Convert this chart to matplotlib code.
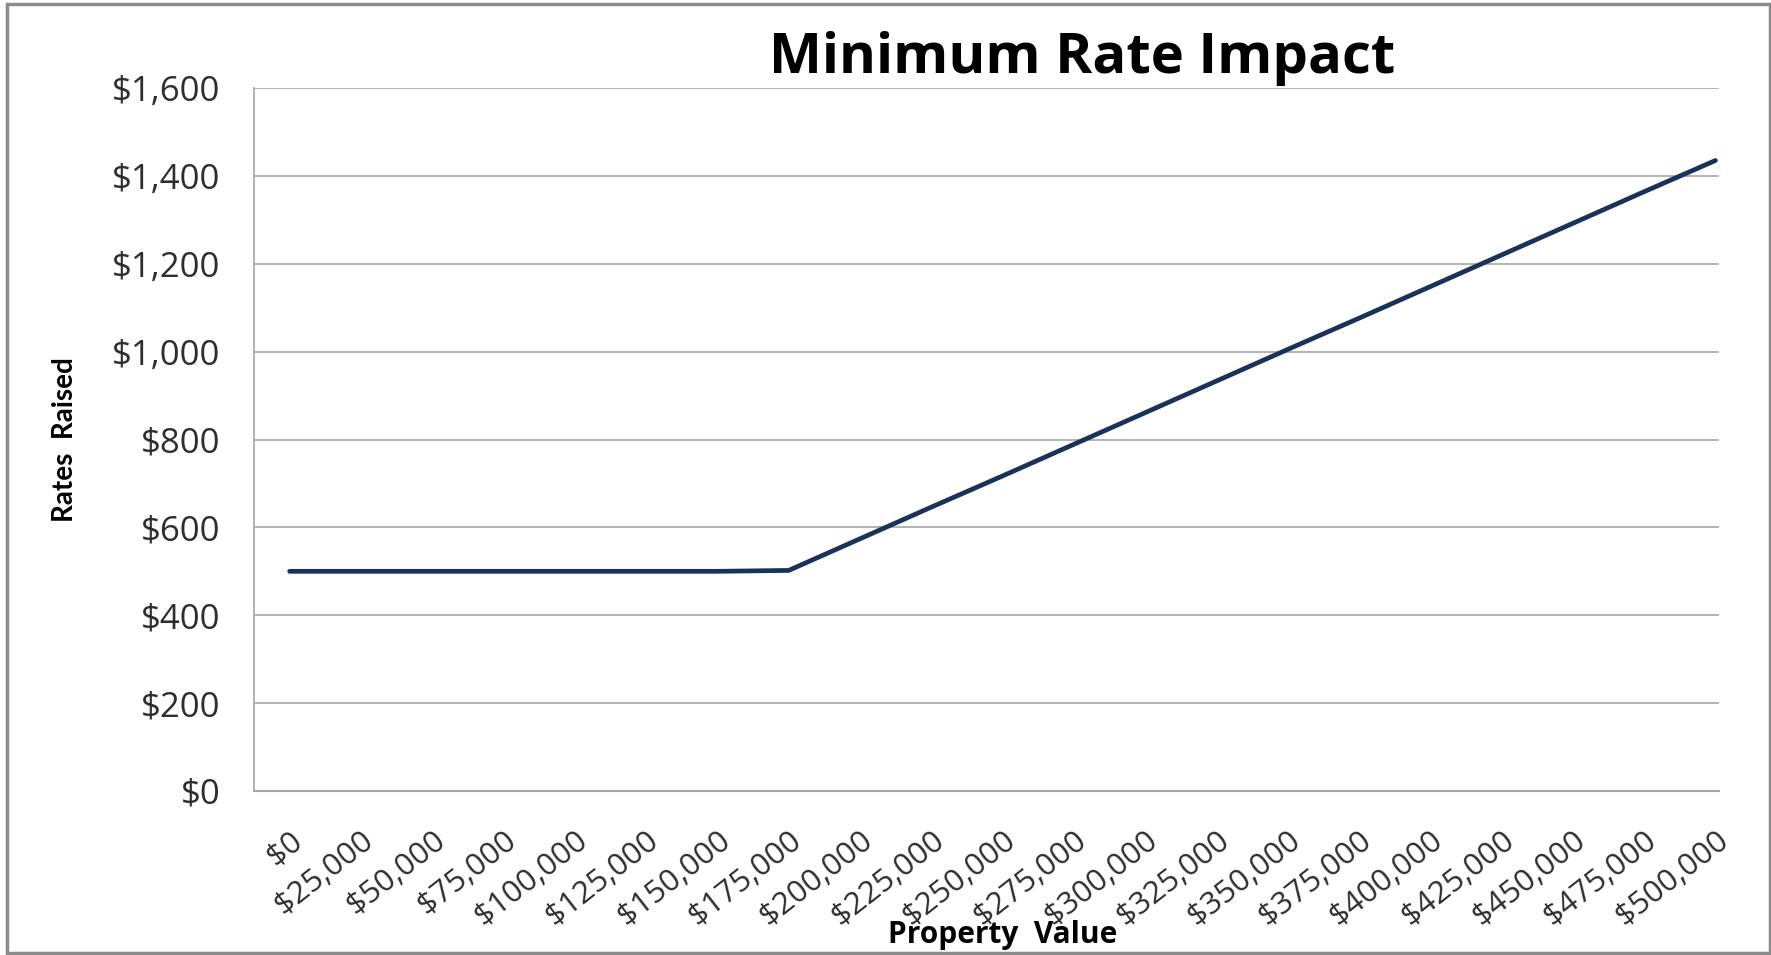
import matplotlib
matplotlib.use("Agg")
import matplotlib.pyplot as plt
from matplotlib.patches import Rectangle
from matplotlib.ticker import FuncFormatter

plt.rcParams['font.family'] = ['Open Sans', 'DejaVu Sans']

# property values ($) and the rates raised for each
property_values = [0, 25000, 50000, 75000, 100000, 125000, 150000, 175000,
                   200000, 225000, 250000, 275000, 300000, 325000, 350000,
                   375000, 400000, 425000, 450000, 475000, 500000]
rates_raised = [500, 500, 500, 500, 500, 500, 500, 502,
                574, 646, 717, 789, 861, 933, 1005,
                1076, 1148, 1220, 1292, 1364, 1435]
x_labels = ["${:,}".format(v) for v in property_values]
y_ticks = [0, 200, 400, 600, 800, 1000, 1200, 1400, 1600]

W, H = 1771, 955
fig = plt.figure(figsize=(W / 100, H / 100), dpi=100)
ax = fig.add_axes([254 / W, 1 - 791 / H, (1719 - 254) / W, (791 - 88) / H])

pos = list(range(len(property_values)))
ax.plot(pos, rates_raised, color='#18325A', lw=3.4, solid_capstyle='round')

ax.set_xlim(-0.5, len(pos) - 0.95)
ax.set_ylim(0, 1600)
ax.set_yticks(y_ticks)
ax.yaxis.set_major_formatter(FuncFormatter(lambda v, p: "${:,.0f}".format(v)))
ax.set_xticks(pos)
ax.set_xticklabels(x_labels, rotation=38, ha='right', rotation_mode='anchor')

ax.grid(axis='y', color='#a6a6a6', lw=1.2)
ax.set_axisbelow(True)
for s in ['top', 'right']:
    ax.spines[s].set_visible(False)
ax.spines['left'].set_color('#a6a6a6')
ax.spines['bottom'].set_color('#a6a6a6')
ax.spines['left'].set_linewidth(1.2)
ax.spines['bottom'].set_linewidth(1.5)
ax.tick_params(axis='both', length=0, colors='#2e2e2e')
ax.tick_params(axis='y', pad=24, labelsize=25)
ax.tick_params(axis='x', pad=25, labelsize=22.5)

fig.text(1082 / W, 1 - 73 / H, "Minimum Rate Impact", ha='center', va='baseline',
         fontsize=40.5, fontweight='bold', color='black')
fig.text(65 / W, 1 - 440 / H, "Rates  Raised", ha='center', va='center',
         rotation=90, fontsize=20, fontweight='bold', color='black',
         family=['Lato', 'DejaVu Sans'])
fig.text(1003 / W, 1 - 935 / H, "Property  Value", ha='center', va='center',
         fontsize=21.5, fontweight='bold', color='black')

# outer chart frame
fig.patches.append(Rectangle((7 / W, 0.002), 1 - 8 / W, 1 - 4 / H - 0.002,
                             transform=fig.transFigure, fill=False,
                             edgecolor='#8c8c8c', lw=2.5))

fig.savefig("out.png", dpi=100)
